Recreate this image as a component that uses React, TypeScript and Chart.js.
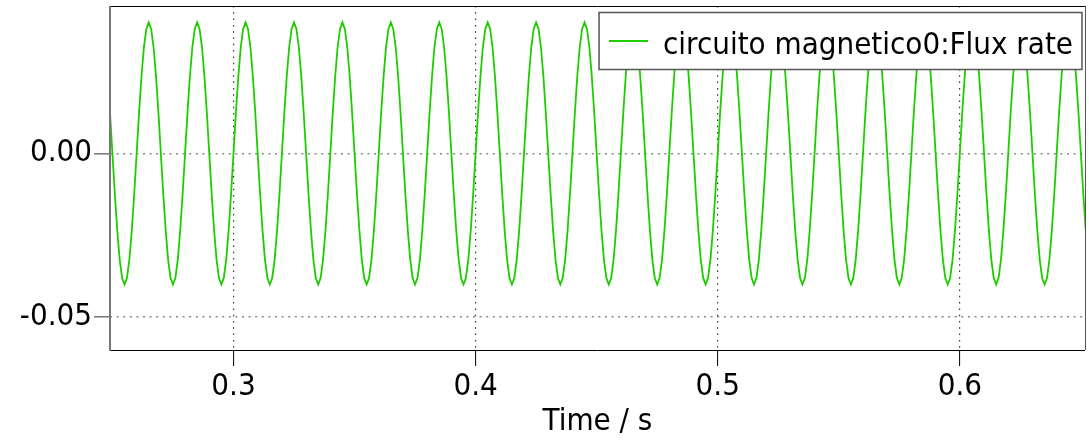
import { useEffect, useRef } from 'react';
import { Chart, registerables } from 'chart.js';

Chart.register(...registerables);

const seriesLabel = 'circuito magnetico0:Flux rate';
const xTitle = 'Time / s';

// samples every 1 ms starting at t = 0.249 s
const sampleStart = 0.249;
const sampleStep = 0.001;

const fluxRate = [
  0.0124,
  0, -0.0124, -0.0235, -0.0324, -0.038, -0.04, -0.038, -0.0324, -0.0235, -0.0124, 0, 0.0124, 0.0235, 0.0324, 0.038, 0.04, 0.038, 0.0324, 0.0235, 0.0124,
  0, -0.0124, -0.0235, -0.0324, -0.038, -0.04, -0.038, -0.0324, -0.0235, -0.0124, 0, 0.0124, 0.0235, 0.0324, 0.038, 0.04, 0.038, 0.0324, 0.0235, 0.0124,
  0, -0.0124, -0.0235, -0.0324, -0.038, -0.04, -0.038, -0.0324, -0.0235, -0.0124, 0, 0.0124, 0.0235, 0.0324, 0.038, 0.04, 0.038, 0.0324, 0.0235, 0.0124,
  0, -0.0124, -0.0235, -0.0324, -0.038, -0.04, -0.038, -0.0324, -0.0235, -0.0124, 0, 0.0124, 0.0235, 0.0324, 0.038, 0.04, 0.038, 0.0324, 0.0235, 0.0124,
  0, -0.0124, -0.0235, -0.0324, -0.038, -0.04, -0.038, -0.0324, -0.0235, -0.0124, 0, 0.0124, 0.0235, 0.0324, 0.038, 0.04, 0.038, 0.0324, 0.0235, 0.0124,
  0, -0.0124, -0.0235, -0.0324, -0.038, -0.04, -0.038, -0.0324, -0.0235, -0.0124, 0, 0.0124, 0.0235, 0.0324, 0.038, 0.04, 0.038, 0.0324, 0.0235, 0.0124,
  0, -0.0124, -0.0235, -0.0324, -0.038, -0.04, -0.038, -0.0324, -0.0235, -0.0124, 0, 0.0124, 0.0235, 0.0324, 0.038, 0.04, 0.038, 0.0324, 0.0235, 0.0124,
  0, -0.0124, -0.0235, -0.0324, -0.038, -0.04, -0.038, -0.0324, -0.0235, -0.0124, 0, 0.0124, 0.0235, 0.0324, 0.038, 0.04, 0.038, 0.0324, 0.0235, 0.0124,
  0, -0.0124, -0.0235, -0.0324, -0.038, -0.04, -0.038, -0.0324, -0.0235, -0.0124, 0, 0.0124, 0.0235, 0.0324, 0.038, 0.04, 0.038, 0.0324, 0.0235, 0.0124,
  0, -0.0124, -0.0235, -0.0324, -0.038, -0.04, -0.038, -0.0324, -0.0235, -0.0124, 0, 0.0124, 0.0235, 0.0324, 0.038, 0.04, 0.038, 0.0324, 0.0235, 0.0124,
  0, -0.0124, -0.0235, -0.0324, -0.038, -0.04, -0.038, -0.0324, -0.0235, -0.0124, 0, 0.0124, 0.0235, 0.0324, 0.038, 0.04, 0.038, 0.0324, 0.0235, 0.0124,
  0, -0.0124, -0.0235, -0.0324, -0.038, -0.04, -0.038, -0.0324, -0.0235, -0.0124, 0, 0.0124, 0.0235, 0.0324, 0.038, 0.04, 0.038, 0.0324, 0.0235, 0.0124,
  0, -0.0124, -0.0235, -0.0324, -0.038, -0.04, -0.038, -0.0324, -0.0235, -0.0124, 0, 0.0124, 0.0235, 0.0324, 0.038, 0.04, 0.038, 0.0324, 0.0235, 0.0124,
  0, -0.0124, -0.0235, -0.0324, -0.038, -0.04, -0.038, -0.0324, -0.0235, -0.0124, 0, 0.0124, 0.0235, 0.0324, 0.038, 0.04, 0.038, 0.0324, 0.0235, 0.0124,
  0, -0.0124, -0.0235, -0.0324, -0.038, -0.04, -0.038, -0.0324, -0.0235, -0.0124, 0, 0.0124, 0.0235, 0.0324, 0.038, 0.04, 0.038, 0.0324, 0.0235, 0.0124,
  0, -0.0124, -0.0235, -0.0324, -0.038, -0.04, -0.038, -0.0324, -0.0235, -0.0124, 0, 0.0124, 0.0235, 0.0324, 0.038, 0.04, 0.038, 0.0324, 0.0235, 0.0124,
  0, -0.0124, -0.0235, -0.0324, -0.038, -0.04, -0.038, -0.0324, -0.0235, -0.0124, 0, 0.0124, 0.0235, 0.0324, 0.038, 0.04, 0.038, 0.0324, 0.0235, 0.0124,
  0, -0.0124, -0.0235, -0.0324, -0.038, -0.04, -0.038, -0.0324, -0.0235, -0.0124, 0, 0.0124, 0.0235, 0.0324, 0.038, 0.04, 0.038, 0.0324, 0.0235, 0.0124,
  0, -0.0124, -0.0235, -0.0324, -0.038, -0.04, -0.038, -0.0324, -0.0235, -0.0124, 0, 0.0124, 0.0235, 0.0324, 0.038, 0.04, 0.038, 0.0324, 0.0235, 0.0124,
  0, -0.0124, -0.0235, -0.0324, -0.038, -0.04, -0.038, -0.0324, -0.0235, -0.0124, 0, 0.0124, 0.0235, 0.0324, 0.038, 0.04, 0.038, 0.0324, 0.0235, 0.0124,
  0, -0.0124, -0.0235,
];

const xTickValues = [0.3, 0.4, 0.5, 0.6];
const xTickLabels = ['0.3', '0.4', '0.5', '0.6'];
const yTickValues = [0, -0.05];
const yTickLabels = ['0.00', '-0.05'];

const xMin = 0.249;
const xMax = 0.6517;
const yMin = -0.06;
const yMax = 0.045;

const FONT = "'DejaVu Sans Condensed', 'DejaVu Sans', sans-serif";
const FONT_SIZE = 31;
const LINE_COLOR = 'rgb(30,204,0)';

const framePlugin = {
  id: 'frame',
  afterDatasetsDraw(chart: any) {
    const { ctx, chartArea: a } = chart;
    ctx.save();
    ctx.setLineDash([]);
    ctx.lineWidth = 1;
    ctx.strokeStyle = '#000';
    ctx.beginPath();
    ctx.moveTo(a.left, a.top + 0.5);
    ctx.lineTo(a.right, a.top + 0.5);
    ctx.moveTo(a.left, a.bottom + 0.5);
    ctx.lineTo(a.right, a.bottom + 0.5);
    ctx.stroke();
    ctx.strokeStyle = '#555';
    ctx.beginPath();
    ctx.moveTo(a.right + 0.5, a.top);
    ctx.lineTo(a.right + 0.5, a.bottom);
    ctx.stroke();
    ctx.strokeStyle = '#777';
    ctx.lineWidth = 2;
    ctx.beginPath();
    ctx.moveTo(a.left, a.top);
    ctx.lineTo(a.left, a.bottom + 1);
    ctx.stroke();
    ctx.restore();
  },
};

const legendPlugin = {
  id: 'boxLegend',
  afterDraw(chart: any) {
    const { ctx, chartArea: a } = chart;
    const ds = chart.data.datasets[0];
    ctx.save();
    ctx.font = `${FONT_SIZE}px ${FONT}`;
    const textW = ctx.measureText(ds.label).width;
    const w = 10 + 39 + 15 + textW + 9;
    const h = 57;
    const right = a.right - 3;
    const left = right - w;
    const top = a.top + 6.5;
    ctx.fillStyle = '#fff';
    ctx.fillRect(left, top, w, h);
    ctx.strokeStyle = '#555';
    ctx.lineWidth = 1.5;
    ctx.setLineDash([]);
    ctx.strokeRect(left, top, w, h);
    const midY = top + h / 2;
    ctx.strokeStyle = ds.borderColor;
    ctx.lineWidth = 1.8;
    ctx.beginPath();
    ctx.moveTo(left + 10, midY);
    ctx.lineTo(left + 49, midY);
    ctx.stroke();
    ctx.fillStyle = '#000';
    ctx.textAlign = 'left';
    ctx.textBaseline = 'alphabetic';
    ctx.fillText(ds.label, left + 64, top + 41);
    ctx.restore();
  },
};

export default function App() {
  const ref = useRef<HTMLCanvasElement | null>(null);

  useEffect(() => {
    if (!ref.current) return;
    const points = fluxRate.map((v, i) => ({ x: sampleStart + i * sampleStep, y: v }));
    const chart = new Chart(ref.current, {
      type: 'line',
      data: {
        datasets: [
          {
            label: seriesLabel,
            data: points,
            borderColor: LINE_COLOR,
            borderWidth: 1.8,
            pointRadius: 0,
            tension: 0,
            fill: false,
          },
        ],
      },
      options: {
        animation: false,
        responsive: false,
        devicePixelRatio: 1,
        events: [],
        layout: { padding: { top: 6, right: 4, left: 0, bottom: 0 } },
        plugins: {
          legend: { display: false },
          tooltip: { enabled: false },
          title: { display: false },
        },
        scales: {
          x: {
            type: 'linear',
            min: xMin,
            max: xMax,
            afterFit: (s: any) => {
              s.height = 91;
              s.paddingLeft = 0;
              s.paddingRight = 0;
            },
            afterBuildTicks: (s: any) => {
              s.ticks = xTickValues.map((v) => ({ value: v }));
            },
            ticks: {
              autoSkip: false,
              maxRotation: 0,
              padding: 2,
              color: '#000',
              font: { family: FONT, size: FONT_SIZE },
              callback: (_v: any, i: number) => xTickLabels[i],
            },
            grid: {
              color: '#333',
              lineWidth: 1.2,
              drawTicks: true,
              tickLength: 16,
              tickColor: '#000',
              tickWidth: 1,
              tickBorderDash: [],
            },
            border: { display: false, dash: [1.5, 4.8] },
            title: {
              display: true,
              text: xTitle,
              color: '#000',
              font: { family: FONT, size: FONT_SIZE },
              padding: 0,
            },
          },
          y: {
            type: 'linear',
            min: yMin,
            max: yMax,
            afterFit: (s: any) => {
              s.width = 110;
              s.paddingTop = 0;
              s.paddingBottom = 0;
            },
            afterBuildTicks: (s: any) => {
              s.ticks = yTickValues.map((v) => ({ value: v }));
            },
            ticks: {
              autoSkip: false,
              padding: 2,
              color: '#000',
              font: { family: FONT, size: FONT_SIZE },
              callback: (_v: any, i: number) => yTickLabels[i],
            },
            grid: {
              color: '#888',
              lineWidth: 1.6,
              drawTicks: true,
              tickLength: 16,
              tickColor: '#777',
              tickWidth: 1.5,
              tickBorderDash: [],
            },
            border: { display: false, dash: [2, 4.6] },
          },
        },
      },
      plugins: [framePlugin, legendPlugin],
    });
    return () => chart.destroy();
  }, []);

  return (
    <div style={{ position: 'fixed', left: 0, top: 0, width: 1089, height: 441, background: '#fff' }}>
      <canvas ref={ref} width={1089} height={441} style={{ display: 'block' }} />
    </div>
  );
}
